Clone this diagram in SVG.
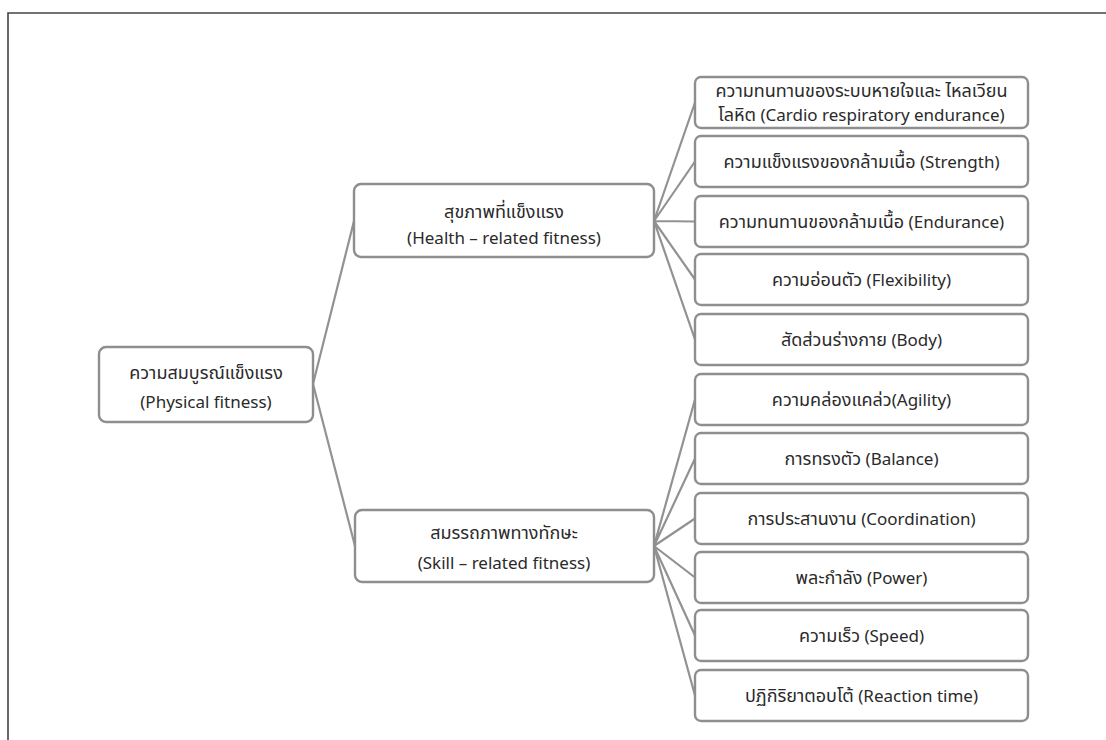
<svg xmlns="http://www.w3.org/2000/svg" width="1106" height="740" viewBox="0 0 1106 740">
<style>
.box{fill:#fff;stroke:#8e8e8e;stroke-width:2.4}
.t{font-family:"Noto Sans","Noto Sans Thai","DejaVu Sans",sans-serif;font-size:17px;fill:#2a2a2a;text-anchor:middle}
.th{font-size:18px}
.c{stroke:#929292;stroke-width:2.2;fill:none}
</style>
<rect width="1106" height="740" fill="#fff"/>
<path d="M8 740 V13 H1106" fill="none" stroke="#444" stroke-width="1.6"/>
<g id="connectors">
<path class="c" d="M313 384 L354 221 M313 384 L355 546"/>
<path class="c" d="M654 221 L695 102.5 M654 221 L695 161.5 M654 221 L695 221.5 M654 221 L695 279.5 M654 221 L695 339.5"/>
<path class="c" d="M654 546 L695 399.5 M654 546 L695 458.5 M654 546 L695 518.5 M654 546 L695 577.5 M654 546 L695 635.5 M654 546 L695 695.5"/>
</g>
<g id="root"><rect class="box" x="99" y="347" width="214" height="75" rx="7"/>
<text class="t" x="206" y="379"><tspan class="th">ความสมบูรณ์แข็งแรง</tspan></text><text class="t" x="206" y="408">(Physical fitness)</text></g>
<g id="health"><rect class="box" x="354" y="184" width="300" height="73" rx="7"/>
<text class="t" x="504" y="218"><tspan class="th">สุขภาพที่แข็งแรง</tspan></text><text class="t" x="504" y="244">(Health – related fitness)</text></g>
<g id="skill"><rect class="box" x="355" y="510" width="299" height="72" rx="7"/>
<text class="t" x="504" y="539"><tspan class="th">สมรรถภาพทางทักษะ</tspan></text><text class="t" x="504" y="569">(Skill – related fitness)</text></g>
<g id="n1"><rect class="box" x="695" y="77" width="333" height="51" rx="6"/>
<text class="t" x="861.5" y="97"><tspan class="th">ความทนทานของระบบหายใจและ ไหลเวียน</tspan></text><text class="t" x="861.5" y="121"><tspan class="th">โลหิต</tspan> (Cardio respiratory endurance)</text></g>
<g id="n2"><rect class="box" x="695" y="136" width="333" height="51" rx="6"/><text class="t" x="861.5" y="168"><tspan class="th">ความแข็งแรงของกล้ามเนื้อ</tspan> (Strength)</text></g>
<g id="n3"><rect class="box" x="695" y="196" width="333" height="51" rx="6"/><text class="t" x="861.5" y="228"><tspan class="th">ความทนทานของกล้ามเนื้อ</tspan> (Endurance)</text></g>
<g id="n4"><rect class="box" x="695" y="254" width="333" height="51" rx="6"/><text class="t" x="861.5" y="286"><tspan class="th">ความอ่อนตัว</tspan> (Flexibility)</text></g>
<g id="n5"><rect class="box" x="695" y="314" width="333" height="51" rx="6"/><text class="t" x="861.5" y="346"><tspan class="th">สัดส่วนร่างกาย</tspan> (Body)</text></g>
<g id="n6"><rect class="box" x="695" y="374" width="333" height="51" rx="6"/><text class="t" x="861.5" y="406"><tspan class="th">ความคล่องแคล่ว</tspan>(Agility)</text></g>
<g id="n7"><rect class="box" x="695" y="433" width="333" height="51" rx="6"/><text class="t" x="861.5" y="465"><tspan class="th">การทรงตัว</tspan> (Balance)</text></g>
<g id="n8"><rect class="box" x="695" y="493" width="333" height="51" rx="6"/><text class="t" x="861.5" y="525"><tspan class="th">การประสานงาน</tspan> (Coordination)</text></g>
<g id="n9"><rect class="box" x="695" y="552" width="333" height="51" rx="6"/><text class="t" x="861.5" y="584"><tspan class="th">พละกำลัง</tspan> (Power)</text></g>
<g id="n10"><rect class="box" x="695" y="610" width="333" height="51" rx="6"/><text class="t" x="861.5" y="642"><tspan class="th">ความเร็ว</tspan> (Speed)</text></g>
<g id="n11"><rect class="box" x="695" y="670" width="333" height="51" rx="6"/><text class="t" x="861.5" y="702"><tspan class="th">ปฏิกิริยาตอบโต้</tspan> (Reaction time)</text></g>
</svg>
